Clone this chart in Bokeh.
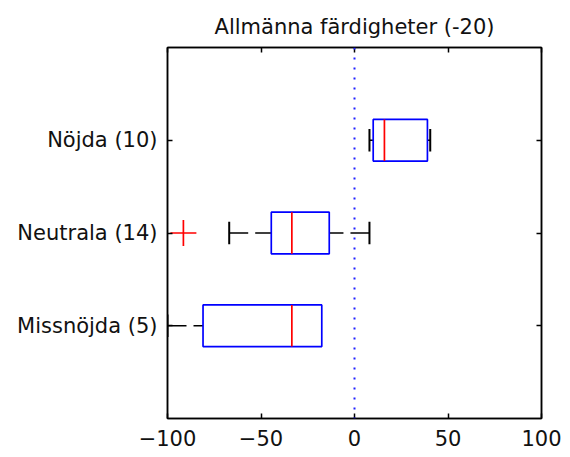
from bokeh.plotting import figure
from bokeh.models import LinearAxis, FixedTicker, Span, Range1d
from bokeh.embed import file_html
from bokeh.resources import INLINE

# ---- data ----
title_text = "Allmänna färdigheter (-20)"
categories = ["Missnöjda (5)", "Neutrala (14)", "Nöjda (10)"]
positions = [1, 2, 3]
lower_whisker = [-100, -67, 8]
q1 = [-81, -44.5, 10]
median = [-33.5, -33.5, 16]
q3 = [-17.5, -13.5, 39]
upper_whisker = [-17.5, 8, 40.5]
outlier_x = [-91.5]
outlier_y = [2]
x_ticks = [-100, -50, 0, 50, 100]

FONT = "DejaVu Sans"
FS = "21px"
BOX_H = 0.45
CAP_H = 0.24

p = figure(width=562, height=456, output_backend="svg", toolbar_location=None,
           x_range=Range1d(-100, 100), y_range=Range1d(0, 4),
           min_border_left=167, min_border_right=21, min_border_top=47, min_border_bottom=38)
p.title.text = title_text
p.title.text_font = FONT
p.title.text_font_size = FS
p.title.text_font_style = "normal"
p.title.align = "center"
p.title.text_color = "#111111"
p.title.standoff = 17

p.xgrid.visible = False
p.ygrid.visible = False
p.outline_line_color = "black"
p.outline_line_width = 1.5
p.background_fill_color = "white"
p.border_fill_color = "white"

label_map = {pos: lab for pos, lab in zip(positions, categories)}

def style_axis(ax, labels=True):
    ax.axis_line_color = "black"
    ax.axis_line_width = 1.5
    ax.major_tick_in = 5
    ax.major_tick_out = 0
    ax.major_tick_line_color = "black"
    ax.major_tick_line_width = 1.5
    ax.minor_tick_line_color = None
    ax.major_label_text_font = FONT
    ax.major_label_text_color = "#111111"
    if labels:
        ax.major_label_text_font_size = FS
    else:
        ax.major_label_text_font_size = "1px"
        ax.major_label_text_color = None
        ax.major_label_standoff = 0

xa = p.xaxis[0]
xa.ticker = FixedTicker(ticks=x_ticks)
style_axis(xa)
xa.major_label_standoff = 11

ya = p.yaxis[0]
ya.ticker = FixedTicker(ticks=positions)
ya.major_label_overrides = {pos: lab for pos, lab in label_map.items()}
style_axis(ya)
ya.major_label_standoff = 10

top_ax = LinearAxis(ticker=FixedTicker(ticks=x_ticks))
style_axis(top_ax, labels=False)
p.add_layout(top_ax, "above")
right_ax = LinearAxis(ticker=FixedTicker(ticks=positions))
style_axis(right_ax, labels=False)
p.add_layout(right_ax, "right")

# zero line
p.add_layout(Span(location=0, dimension="height", line_color="#2020ff",
                  line_width=2, line_dash="2 8"))

# whiskers (dashed)
wl = [(lw, a, y) for lw, a, y in zip(lower_whisker, q1, positions) if lw < a]
wu = [(uw, b, y) for uw, b, y in zip(upper_whisker, q3, positions) if uw > b]
wx0 = [w[0] for w in wl] + [w[0] for w in wu]
wx1 = [w[1] for w in wl] + [w[1] for w in wu]
wy = [w[2] for w in wl] + [w[2] for w in wu]
p.segment(x0=wx0, x1=wx1, y0=wy, y1=wy, line_color="black", line_width=1.5,
          line_dash="19 7")

# caps
cx = [w[0] for w in wl] + [w[0] for w in wu]
p.segment(x0=cx, x1=cx, y0=[y - CAP_H / 2 for y in wy], y1=[y + CAP_H / 2 for y in wy],
          line_color="black", line_width=2)

# boxes
p.hbar(y=positions, left=q1, right=q3, height=BOX_H, fill_color=None,
       line_color="#0000ff", line_width=1.7)

# medians
p.segment(x0=median, x1=median, y0=[y - BOX_H / 2 for y in positions],
          y1=[y + BOX_H / 2 for y in positions], line_color="#ff0000", line_width=1.7)

# outliers
p.scatter(outlier_x, outlier_y, marker="cross", size=26, line_color="#ff0000",
          line_width=1.7)

open("out.html", "w").write(file_html(p, INLINE))
